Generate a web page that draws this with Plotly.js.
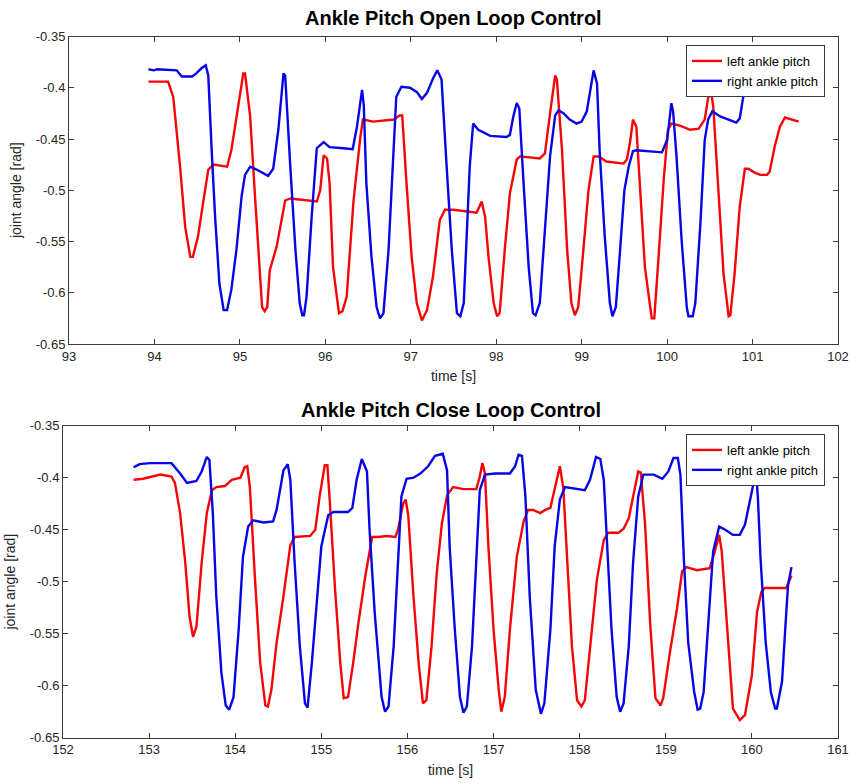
<!DOCTYPE html>
<html>
<head>
<meta charset="utf-8">
<script src="https://cdn.plot.ly/plotly-3.0.1.min.js"></script>
<style>
html,body{margin:0;padding:0;background:#fff;}
#chart{width:850px;height:784px;}
</style>
</head>
<body>
<div id="chart"></div>
<script>
// ---------- Data: Open loop (top) ----------
const openLeftTime = [93.93,94.16,94.22,94.30,94.36,94.42,94.45,94.51,94.57,94.63,94.69,94.85,94.90,94.98,95.04,95.06,95.12,95.18,95.22,95.26,95.29,95.32,95.35,95.43,95.53,95.59,95.90,95.94,95.98,96.02,96.05,96.09,96.16,96.20,96.25,96.33,96.41,96.44,96.56,96.80,96.87,96.90,96.95,97.01,97.07,97.13,97.19,97.26,97.34,97.40,97.50,97.65,97.77,97.83,97.87,97.91,97.97,98.01,98.04,98.10,98.16,98.24,98.28,98.51,98.57,98.63,98.69,98.71,98.77,98.83,98.88,98.92,98.96,99.02,99.08,99.14,99.20,99.29,99.49,99.53,99.57,99.60,99.64,99.68,99.74,99.82,99.85,99.90,99.96,100.01,100.05,100.15,100.27,100.37,100.44,100.48,100.51,100.54,100.60,100.66,100.72,100.74,100.79,100.85,100.91,100.95,101.03,101.09,101.17,101.20,101.26,101.32,101.38,101.42,101.54];
const openLeftAngle = [-0.394,-0.394,-0.409,-0.477,-0.536,-0.565,-0.565,-0.545,-0.512,-0.480,-0.475,-0.477,-0.461,-0.418,-0.386,-0.386,-0.428,-0.510,-0.565,-0.614,-0.618,-0.614,-0.578,-0.555,-0.510,-0.508,-0.511,-0.500,-0.466,-0.469,-0.493,-0.575,-0.620,-0.618,-0.604,-0.510,-0.448,-0.431,-0.433,-0.431,-0.427,-0.427,-0.493,-0.565,-0.610,-0.627,-0.617,-0.584,-0.529,-0.519,-0.519,-0.521,-0.522,-0.511,-0.526,-0.565,-0.610,-0.623,-0.620,-0.558,-0.503,-0.470,-0.467,-0.469,-0.464,-0.425,-0.388,-0.392,-0.461,-0.558,-0.610,-0.622,-0.614,-0.558,-0.500,-0.467,-0.467,-0.472,-0.474,-0.470,-0.451,-0.431,-0.438,-0.493,-0.575,-0.625,-0.625,-0.565,-0.490,-0.441,-0.435,-0.437,-0.441,-0.440,-0.431,-0.410,-0.402,-0.418,-0.500,-0.581,-0.623,-0.622,-0.581,-0.516,-0.479,-0.479,-0.483,-0.485,-0.485,-0.482,-0.457,-0.438,-0.429,-0.430,-0.433];

const openRightTime = [93.93,93.99,94.03,94.26,94.32,94.44,94.49,94.55,94.60,94.63,94.67,94.71,94.76,94.81,94.85,94.90,94.96,95.02,95.06,95.12,95.20,95.33,95.39,95.45,95.51,95.53,95.59,95.65,95.70,95.73,95.75,95.78,95.84,95.90,95.98,96.05,96.21,96.32,96.37,96.43,96.45,96.48,96.54,96.60,96.64,96.68,96.74,96.80,96.83,96.89,96.99,97.07,97.13,97.19,97.26,97.31,97.36,97.42,97.48,97.54,97.58,97.62,97.65,97.69,97.73,97.79,97.93,98.12,98.16,98.20,98.24,98.27,98.32,98.38,98.43,98.46,98.51,98.57,98.63,98.69,98.73,98.79,98.86,98.94,99.00,99.06,99.10,99.14,99.18,99.21,99.27,99.33,99.36,99.40,99.45,99.50,99.55,99.60,99.64,99.94,100.00,100.05,100.07,100.11,100.17,100.23,100.25,100.30,100.33,100.39,100.44,100.48,100.53,100.62,100.72,100.81,100.85,100.89,100.93,100.98,101.10,101.20,101.26,101.32,101.40,101.54];
const openRightAngle = [-0.382,-0.383,-0.382,-0.383,-0.389,-0.389,-0.386,-0.381,-0.378,-0.388,-0.461,-0.526,-0.591,-0.617,-0.617,-0.597,-0.558,-0.506,-0.485,-0.477,-0.480,-0.486,-0.479,-0.441,-0.386,-0.388,-0.477,-0.558,-0.610,-0.622,-0.622,-0.604,-0.526,-0.459,-0.453,-0.458,-0.459,-0.460,-0.438,-0.402,-0.417,-0.493,-0.565,-0.614,-0.625,-0.620,-0.558,-0.461,-0.409,-0.399,-0.400,-0.404,-0.411,-0.405,-0.391,-0.383,-0.392,-0.477,-0.558,-0.620,-0.623,-0.610,-0.558,-0.477,-0.435,-0.441,-0.447,-0.448,-0.446,-0.428,-0.415,-0.420,-0.493,-0.575,-0.620,-0.622,-0.610,-0.542,-0.467,-0.427,-0.422,-0.425,-0.431,-0.435,-0.433,-0.423,-0.402,-0.383,-0.396,-0.461,-0.545,-0.610,-0.623,-0.614,-0.558,-0.500,-0.477,-0.462,-0.461,-0.463,-0.451,-0.415,-0.423,-0.467,-0.549,-0.614,-0.623,-0.623,-0.610,-0.532,-0.451,-0.431,-0.423,-0.428,-0.431,-0.434,-0.430,-0.409,-0.389,-0.380,-0.380,-0.388,-0.397,-0.402,-0.404,-0.404];

// ---------- Data: Close loop (bottom) ----------
const closeLeftTime = [152.82,152.93,153.13,153.26,153.30,153.36,153.42,153.47,153.51,153.55,153.61,153.67,153.73,153.78,153.88,153.96,154.06,154.11,154.14,154.17,154.23,154.29,154.35,154.38,154.42,154.48,154.56,154.64,154.69,154.87,154.93,154.98,155.04,155.07,155.10,155.16,155.22,155.26,155.31,155.37,155.43,155.51,155.59,155.66,155.76,155.86,155.89,155.95,155.98,156.01,156.07,156.13,156.18,156.22,156.28,156.34,156.40,156.46,156.53,156.65,156.80,156.84,156.87,156.90,156.94,157.00,157.06,157.09,157.13,157.19,157.27,157.35,157.40,157.46,157.54,157.60,157.66,157.71,157.77,157.81,157.85,157.91,157.97,158.02,158.06,158.12,158.20,158.28,158.33,158.45,158.51,158.57,158.62,158.68,158.71,158.76,158.82,158.88,158.94,158.97,159.05,159.13,159.19,159.24,159.36,159.51,159.57,159.62,159.65,159.71,159.78,159.86,159.92,160.00,160.06,160.11,160.15,160.40,160.46];
const closeLeftAngle = [-0.402,-0.401,-0.397,-0.399,-0.405,-0.434,-0.482,-0.534,-0.553,-0.543,-0.482,-0.434,-0.412,-0.409,-0.408,-0.402,-0.400,-0.390,-0.389,-0.409,-0.498,-0.578,-0.619,-0.620,-0.604,-0.559,-0.514,-0.465,-0.457,-0.456,-0.450,-0.418,-0.388,-0.388,-0.425,-0.508,-0.578,-0.612,-0.611,-0.578,-0.540,-0.495,-0.457,-0.457,-0.456,-0.457,-0.450,-0.425,-0.421,-0.437,-0.514,-0.578,-0.617,-0.614,-0.562,-0.492,-0.444,-0.417,-0.409,-0.411,-0.411,-0.399,-0.386,-0.396,-0.466,-0.546,-0.604,-0.625,-0.611,-0.546,-0.476,-0.442,-0.431,-0.431,-0.434,-0.431,-0.429,-0.412,-0.389,-0.410,-0.476,-0.562,-0.614,-0.620,-0.614,-0.562,-0.498,-0.460,-0.453,-0.453,-0.449,-0.439,-0.418,-0.394,-0.395,-0.445,-0.542,-0.612,-0.619,-0.612,-0.567,-0.526,-0.490,-0.486,-0.489,-0.487,-0.471,-0.455,-0.471,-0.542,-0.622,-0.633,-0.628,-0.590,-0.529,-0.510,-0.506,-0.506,-0.494];

const closeRightTime = [152.82,152.89,153.01,153.26,153.36,153.44,153.55,153.61,153.67,153.70,153.74,153.78,153.84,153.89,153.93,153.98,154.04,154.09,154.15,154.21,154.33,154.44,154.48,154.56,154.61,154.64,154.69,154.75,154.81,154.84,154.89,154.95,155.00,155.08,155.14,155.31,155.36,155.41,155.47,155.53,155.56,155.62,155.70,155.74,155.78,155.84,155.89,155.93,155.99,156.07,156.15,156.24,156.32,156.41,156.46,156.49,156.55,156.61,156.65,156.69,156.75,156.79,156.84,156.90,157.02,157.19,157.25,157.29,157.33,157.37,157.42,157.49,157.55,157.59,157.66,157.71,157.77,157.83,157.93,158.06,158.12,158.19,158.24,158.28,158.32,158.37,158.43,158.47,158.51,158.57,158.62,158.68,158.74,158.86,158.96,159.03,159.09,159.14,159.17,159.21,159.26,159.33,159.37,159.40,159.44,159.49,159.55,159.62,159.69,159.78,159.86,159.92,159.98,160.03,160.045,160.07,160.10,160.16,160.22,160.27,160.29,160.35,160.39,160.42,160.46];
const closeRightAngle = [-0.390,-0.387,-0.386,-0.386,-0.396,-0.405,-0.403,-0.394,-0.380,-0.383,-0.434,-0.514,-0.588,-0.619,-0.623,-0.611,-0.546,-0.476,-0.447,-0.441,-0.443,-0.442,-0.431,-0.393,-0.387,-0.402,-0.482,-0.562,-0.617,-0.621,-0.578,-0.514,-0.466,-0.436,-0.433,-0.433,-0.429,-0.402,-0.382,-0.394,-0.450,-0.530,-0.611,-0.625,-0.620,-0.562,-0.476,-0.418,-0.401,-0.400,-0.396,-0.389,-0.379,-0.377,-0.393,-0.466,-0.546,-0.611,-0.626,-0.620,-0.562,-0.498,-0.412,-0.397,-0.396,-0.396,-0.389,-0.378,-0.379,-0.418,-0.514,-0.604,-0.627,-0.617,-0.546,-0.466,-0.421,-0.409,-0.410,-0.412,-0.402,-0.380,-0.382,-0.402,-0.466,-0.546,-0.611,-0.625,-0.617,-0.562,-0.482,-0.418,-0.397,-0.397,-0.401,-0.394,-0.381,-0.381,-0.397,-0.478,-0.558,-0.606,-0.623,-0.622,-0.606,-0.542,-0.471,-0.447,-0.450,-0.455,-0.455,-0.445,-0.420,-0.401,-0.388,-0.420,-0.477,-0.558,-0.606,-0.622,-0.622,-0.596,-0.542,-0.503,-0.486];

// ---------- Labels / ticks ----------
const titles = ['Ankle Pitch Open Loop Control', 'Ankle Pitch Close Loop Control'];
const seriesNames = ['left ankle pitch', 'right ankle pitch'];
const xLabel = 'time [s]';
const yLabel = 'joint angle [rad]';
const openXTicks = [93,94,95,96,97,98,99,100,101,102];
const closeXTicks = [152,153,154,155,156,157,158,159,160,161];
const yTickVals = [-0.65,-0.6,-0.55,-0.5,-0.45,-0.4,-0.35];
const yTickText = ['-0.65','-0.6','-0.55','-0.5','-0.45','-0.4','-0.35'];

const RED = 'rgb(245,5,5)';
const BLUE = 'rgb(5,5,230)';
const FONT = 'Liberation Sans, Arial, Helvetica, sans-serif';
const AX = '#3a3a3a';

const traces = [
  {x: openLeftTime, y: openLeftAngle, name: seriesNames[0], mode:'lines', line:{color:RED, width:2.4}, xaxis:'x', yaxis:'y', legend:'legend'},
  {x: openRightTime, y: openRightAngle, name: seriesNames[1], mode:'lines', line:{color:BLUE, width:2.4}, xaxis:'x', yaxis:'y', legend:'legend'},
  {x: closeLeftTime, y: closeLeftAngle, name: seriesNames[0], mode:'lines', line:{color:RED, width:2.4}, xaxis:'x2', yaxis:'y2', legend:'legend2'},
  {x: closeRightTime, y: closeRightAngle, name: seriesNames[1], mode:'lines', line:{color:BLUE, width:2.4}, xaxis:'x2', yaxis:'y2', legend:'legend2'}
];

function xAxis(ticks, domain, anchor){
  return {
    domain: domain, anchor: anchor, range: [ticks[0], ticks[ticks.length-1]],
    tickmode:'array', tickvals: ticks, ticktext: ticks.map(String),
    ticks:'inside', ticklen:5, tickcolor:AX, showline:true, linecolor:AX, linewidth:1,
    mirror:'ticks', showgrid:false, zeroline:false,
    tickfont:{family:FONT, size:13, color:'#262626'},
    title:{text:xLabel, font:{family:FONT, size:14, color:'#262626'}, standoff:8}
  };
}
function yAxis(domain, anchor){
  return {
    domain: domain, anchor: anchor, range:[-0.65,-0.35],
    tickmode:'array', tickvals:yTickVals, ticktext:yTickText,
    ticks:'inside', ticklen:5, tickcolor:AX, showline:true, linecolor:AX, linewidth:1,
    mirror:'ticks', showgrid:false, zeroline:false,
    tickfont:{family:FONT, size:13, color:'#262626'},
    title:{text:yLabel, font:{family:FONT, size:14, color:'#262626'}, standoff:10}
  };
}

const legendStyle = {
  bgcolor:'#ffffff', bordercolor:AX, borderwidth:1,
  font:{family:FONT, size:13, color:'#000'},
  xanchor:'left', yanchor:'top', tracegroupgap:0, itemwidth:30
};

const layout = {
  width:850, height:784,
  margin:{l:0, r:0, t:0, b:0},
  paper_bgcolor:'#fff', plot_bgcolor:'#fff',
  showlegend:true,
  xaxis: xAxis(openXTicks, [69/850, 838/850], 'y'),
  yaxis: yAxis([1-344/784, 1-36.5/784], 'x'),
  xaxis2: xAxis(closeXTicks, [63/850, 838/850], 'y2'),
  yaxis2: yAxis([1-737.7/784, 1-425.7/784], 'x2'),
  legend: Object.assign({x:686/850, y:1-45/784}, legendStyle),
  legend2: Object.assign({x:686/850, y:1-434/784}, legendStyle),
  annotations:[
    {text:'<b>'+titles[0]+'</b>', xref:'paper', yref:'paper', x:(69+838)/2/850, y:1-18/784, xanchor:'center', yanchor:'middle', showarrow:false, font:{family:FONT, size:20, color:'#000'}},
    {text:'<b>'+titles[1]+'</b>', xref:'paper', yref:'paper', x:(63+838)/2/850, y:1-410/784, xanchor:'center', yanchor:'middle', showarrow:false, font:{family:FONT, size:20, color:'#000'}}
  ]
};

Plotly.newPlot('chart', traces, layout, {staticPlot:true, displayModeBar:false});
</script>
</body>
</html>
